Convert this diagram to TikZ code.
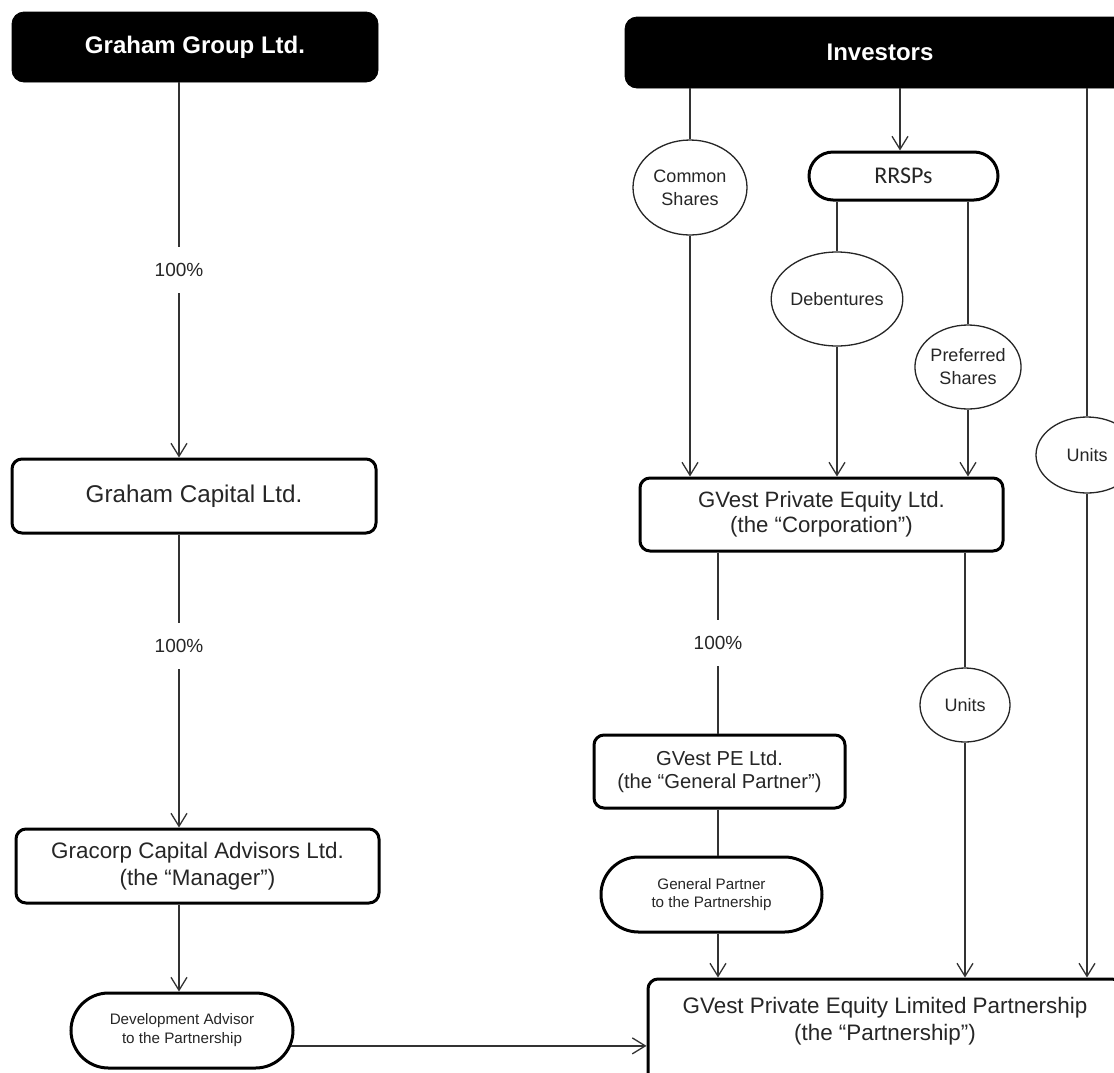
\documentclass[tikz,border=0pt]{standalone}
\usepackage{fontspec}
\setmainfont{Liberation Sans}
\newfontfamily\carlito{Carlito}
\usetikzlibrary{arrows.meta,shapes.geometric,shapes.misc}
\begin{document}
\begin{tikzpicture}[x=0.5pt,y=-0.5pt,
  box/.style={draw=black, line width=1.5pt, rounded corners=5pt, fill=white, inner sep=0pt, align=center, text=black!85},
  blk/.style={fill=black, draw=black, rounded corners=6pt, inner sep=0pt, text=white, font=\bfseries\fontsize{12}{14}\selectfont},
  pill/.style={rounded rectangle, draw=black, line width=1.5pt, fill=white, inner sep=0pt, align=center, text=black!85},
  oval/.style={ellipse, draw=black!85, line width=0.65pt, fill=white, inner sep=0pt, align=center, text=black!85, font=\fontsize{9}{11.5}\selectfont},
  conn/.style={draw=black!80, line width=0.65pt},
  arr/.style={conn, -{Straight Barb[length=6.5pt,width=8pt]}},
  lbl/.style={fill=white, inner xsep=2pt, inner ysep=8pt, font=\fontsize{9.5}{11}\selectfont, text=black!85},
  bigtxt/.style={font=\fontsize{11.2}{13.5}\selectfont}
]
\path[use as bounding box, fill=white] (0,0) rectangle (1114,1072);

% left column
\node[blk, minimum width=183pt, minimum height=35pt] (GG) at (195,47) {Graham Group Ltd.};
\node[box, minimum width=182pt, minimum height=37pt, font=\fontsize{12.1}{14}\selectfont] (GC) at (194,496) {Graham Capital Ltd.};
\node[box, minimum width=181.5pt, minimum height=37pt, bigtxt] (GM) at (197.5,866) {Gracorp Capital Advisors Ltd.\\(the “Manager”)};
\node[pill, minimum width=111pt, minimum height=37.5pt, font=\fontsize{7.6}{9.5}\selectfont] (DA) at (182,1030.5) {Development Advisor\\to the Partnership};

% right part
\node[blk, minimum width=255pt, minimum height=35.5pt] (INV) at (880,52.5) {Investors};
\node[oval, minimum width=57pt, minimum height=47.5pt] (CS) at (690,187.5) {Common\\Shares};
\node[pill, minimum width=94.5pt, minimum height=24pt, font=\carlito\fontsize{12}{14}\selectfont] (RR) at (903.5,176) {RRSPs};
\node[oval, minimum width=56.5pt, minimum height=47pt] (DB) at (837,299) {Debentures};
\node[oval, minimum width=48pt, minimum height=42pt] (PR) at (968,367) {Preferred\\Shares};
\node[oval, minimum width=51pt, minimum height=38pt] (U1) at (1087,455) {Units};
\node[box, minimum width=181.5pt, minimum height=36.5pt, font=\fontsize{11.1}{12.5}\selectfont] (CORP) at (821.5,514.5) {GVest Private Equity Ltd.\\(the “Corporation”)};
\node[oval, minimum width=45pt, minimum height=37pt] (U2) at (965,705) {Units};
\node[box, minimum width=125.5pt, minimum height=36.5pt, font=\fontsize{10.1}{11.5}\selectfont] (GP) at (719.5,771.5) {GVest PE Ltd.\\(the “General Partner”)};
\node[pill, minimum width=110.5pt, minimum height=37.5pt, font=\fontsize{7.6}{9}\selectfont] (GPP) at (711.5,894.5) {General Partner\\to the Partnership};
\node[box, minimum width=237pt, minimum height=60pt] (PS) at (885,1039) {};
\node[bigtxt, align=center, text=black!85, inner sep=0pt] (PST) at (885,1021.5) {GVest Private Equity Limited Partnership\\(the “Partnership”)};

\coordinate (cL) at (179,0);
\coordinate (cR) at (900,0);
\coordinate (cM) at (718,0);

% connectors left
\draw[arr] (GG.south -| cL) -- node[lbl]{100\%} (GC.north -| cL);
\draw[arr] (GC.south -| cL) -- node[lbl, pos=0.38]{100\%} (GM.north -| cL);
\draw[arr] (GM.south -| cL) -- (DA.north -| cL);
\draw[arr] (DA.-8.2) -- (DA.-8.2 -| PS.west);

% connectors right
\draw[conn] (INV.south -| CS.north) -- (CS.north);
\draw[arr] (CS.south) -- (CS.south |- CORP.north);
\draw[arr] (INV.south -| cR) -- (RR.north -| cR);
\draw[conn] (RR.south -| DB.north) -- (DB.north);
\draw[arr] (DB.south) -- (DB.south |- CORP.north);
\draw[conn] (RR.south -| PR.north) -- (PR.north);
\draw[arr] (PR.south) -- (PR.south |- CORP.north);
\draw[conn] (INV.south -| U1.north) -- (U1.north);
\draw[arr] (U1.south) -- (U1.south |- PS.north);
\draw[conn] (CORP.south -| cM) -- node[lbl]{100\%} (GP.north -| cM);
\draw[conn] (CORP.south -| U2.north) -- (U2.north);
\draw[arr] (U2.south) -- (U2.south |- PS.north);
\draw[conn] (GP.south -| cM) -- (GPP.north -| cM);
\draw[arr] (GPP.south -| cM) -- (PS.north -| cM);
\end{tikzpicture}
\end{document}
